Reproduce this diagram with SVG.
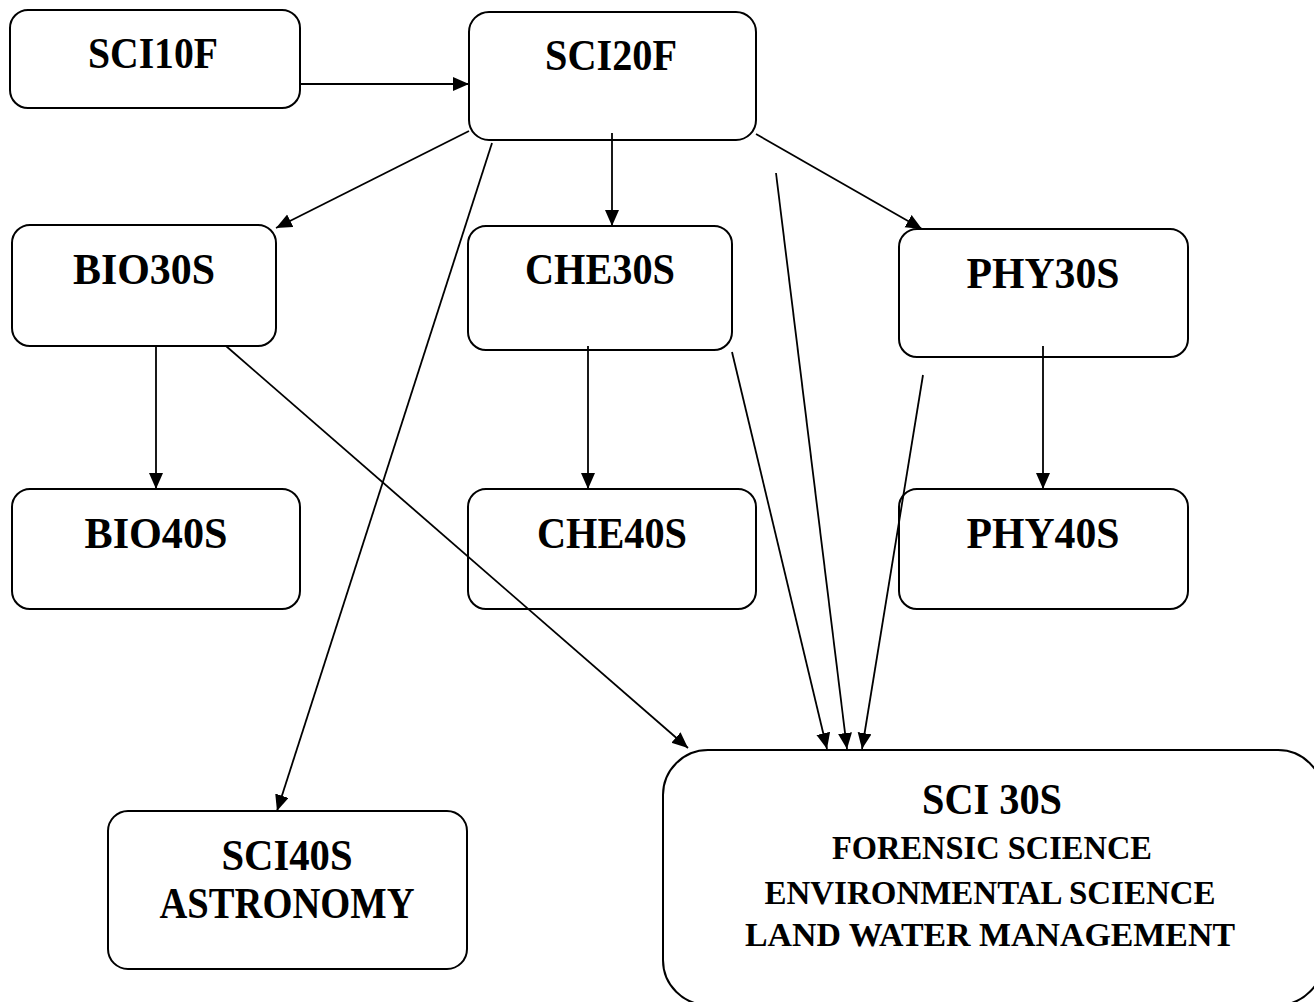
<svg xmlns="http://www.w3.org/2000/svg" width="1314" height="1002" viewBox="0 0 1314 1002">
<style>
.box{fill:#fff;stroke:#000;stroke-width:2}
.t{font-family:"Liberation Serif","DejaVu Serif",serif;font-weight:bold;font-size:44px;text-anchor:middle;fill:#000}
.s{font-size:34px}
.e{fill:none;stroke:#000;stroke-width:1.8;marker-end:url(#ah)}
</style>
<defs>
<marker id="ah" markerUnits="userSpaceOnUse" markerWidth="18" markerHeight="16" refX="16" refY="7" orient="auto">
<path d="M0,0 L16,7 L0,14 z" fill="#000"/>
</marker>
</defs>
<rect width="1314" height="1002" fill="#fff"/>
<g id="SCI10F"><rect class="box" x="10" y="10" width="290" height="98" rx="18"/><text class="t" x="153" y="68" textLength="130" lengthAdjust="spacingAndGlyphs">SCI10F</text></g>
<g id="SCI20F"><rect class="box" x="469" y="12" width="287" height="128" rx="20"/><text class="t" x="611" y="70" textLength="132" lengthAdjust="spacingAndGlyphs">SCI20F</text></g>
<g id="BIO30S"><rect class="box" x="12" y="225" width="264" height="121" rx="18"/><text class="t" x="144" y="284" textLength="142" lengthAdjust="spacingAndGlyphs">BIO30S</text></g>
<g id="CHE30S"><rect class="box" x="468" y="226" width="264" height="124" rx="18"/><text class="t" x="600" y="284" textLength="150" lengthAdjust="spacingAndGlyphs">CHE30S</text></g>
<g id="PHY30S"><rect class="box" x="899" y="229" width="289" height="128" rx="18"/><text class="t" x="1043" y="288" textLength="153" lengthAdjust="spacingAndGlyphs">PHY30S</text></g>
<g id="BIO40S"><rect class="box" x="12" y="489" width="288" height="120" rx="18"/><text class="t" x="156" y="548" textLength="143" lengthAdjust="spacingAndGlyphs">BIO40S</text></g>
<g id="CHE40S"><rect class="box" x="468" y="489" width="288" height="120" rx="18"/><text class="t" x="612" y="548" textLength="150" lengthAdjust="spacingAndGlyphs">CHE40S</text></g>
<g id="PHY40S"><rect class="box" x="899" y="489" width="289" height="120" rx="18"/><text class="t" x="1043" y="548" textLength="153" lengthAdjust="spacingAndGlyphs">PHY40S</text></g>
<g id="SCI40S"><rect class="box" x="108" y="811" width="359" height="158" rx="20"/><text class="t" x="287" y="870" textLength="131" lengthAdjust="spacingAndGlyphs">SCI40S</text><text class="t" x="287" y="918" textLength="255" lengthAdjust="spacingAndGlyphs">ASTRONOMY</text></g>
<g id="SCI30S"><rect class="box" x="663" y="750" width="660" height="255" rx="45"/><text class="t" x="992" y="814" font-size="41" textLength="140" lengthAdjust="spacingAndGlyphs">SCI 30S</text><text class="t s" x="992" y="859" textLength="320" lengthAdjust="spacingAndGlyphs">FORENSIC SCIENCE</text><text class="t s" x="990" y="904" textLength="451" lengthAdjust="spacingAndGlyphs">ENVIRONMENTAL SCIENCE</text><text class="t s" x="990" y="946" textLength="490" lengthAdjust="spacingAndGlyphs">LAND WATER MANAGEMENT</text></g>
<g id="connectors">
<line class="e" x1="300" y1="84" x2="469" y2="84"/>
<line class="e" x1="469" y1="131" x2="276" y2="228"/>
<line class="e" x1="612" y1="133" x2="612" y2="226"/>
<line class="e" x1="756" y1="134" x2="922" y2="229"/>
<line class="e" x1="492" y1="143" x2="277" y2="811"/>
<line class="e" x1="776" y1="173" x2="847" y2="749"/>
<line class="e" x1="156" y1="347" x2="156" y2="489"/>
<line class="e" x1="588" y1="346" x2="588" y2="489"/>
<line class="e" x1="1043" y1="346" x2="1043" y2="489"/>
<line class="e" x1="226" y1="346" x2="688" y2="748"/>
<line class="e" x1="732" y1="352" x2="827" y2="749"/>
<line class="e" x1="923" y1="375" x2="862" y2="749"/>
</g>
</svg>
